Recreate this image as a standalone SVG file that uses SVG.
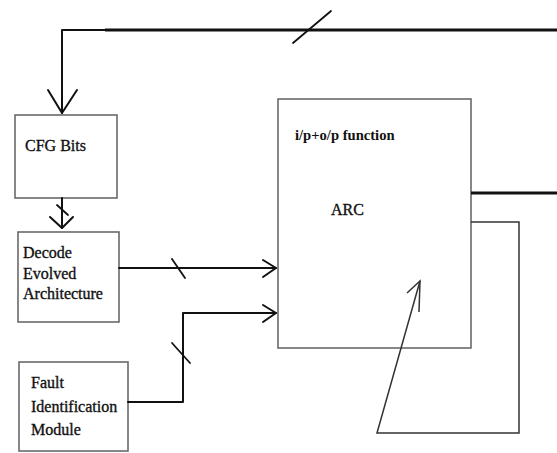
<svg xmlns="http://www.w3.org/2000/svg" width="557" height="453" viewBox="0 0 557 453">
<style>
.box{fill:#fff;stroke:#6a6a6a;stroke-width:1.6}
.t{font-family:"Liberation Serif",serif;font-size:16px;fill:#111;stroke:#111;stroke-width:0.35}
.tb{font-family:"Liberation Serif",serif;font-size:14.6px;font-weight:bold;fill:#111}
.w{fill:none;stroke:#111;stroke-width:2;stroke-linecap:round;stroke-linejoin:round}
.thick{fill:none;stroke:#111;stroke-width:3}
.thin{fill:none;stroke:#333;stroke-width:1.5;stroke-linejoin:miter}
.slash{fill:none;stroke:#111;stroke-width:1.8;stroke-linecap:round}
</style>
<rect width="557" height="453" fill="#fff"/>
<g id="cfg">
<rect class="box" x="15" y="115" width="102" height="83"/>
<text class="t" x="25" y="151">CFG Bits</text>
</g>
<g id="decode">
<rect class="box" x="18" y="232" width="101" height="90"/>
<text class="t" x="23" y="258">Decode</text>
<text class="t" x="23" y="279">Evolved</text>
<text class="t" x="23" y="299">Architecture</text>
</g>
<g id="fault">
<rect class="box" x="19" y="362" width="109" height="89"/>
<text class="t" x="31" y="388">Fault</text>
<text class="t" x="31" y="412">Identification</text>
<text class="t" x="31" y="435">Module</text>
</g>
<g id="arc">
<rect class="box" x="278" y="99" width="193" height="249"/>
<text class="tb" x="295" y="140">i/p+o/p function</text>
<text class="t" x="331" y="215">ARC</text>
</g>
<g id="connectors">
<path class="thick" d="M105 30 H557"/>
<path class="w" d="M105 30 H62 V113"/>
<path class="w" d="M48 90 L62 113 L77 90"/>
<path class="slash" d="M293 43 L331 11"/>
<path class="w" d="M62 198 V228"/>
<path class="w" d="M50 217 L62 228 L73 217"/>
<path class="slash" d="M57 205 L68 215"/>
<path class="w" d="M119 268 H276"/>
<path class="w" d="M263 260 L276 268 L263 277"/>
<path class="slash" d="M172 259 L185 278"/>
<path class="w" d="M128 402 H183 V313 H276"/>
<path class="w" d="M263 305 L276 313 L263 322"/>
<path class="slash" d="M172 343 L190 363"/>
<path class="thick" d="M471 193 H557"/>
<path class="thin" d="M471 222 H519 V433 H377 L420 281"/>
<path class="thin" d="M407 293 L420 281 L419 312"/>
</g>
</svg>
